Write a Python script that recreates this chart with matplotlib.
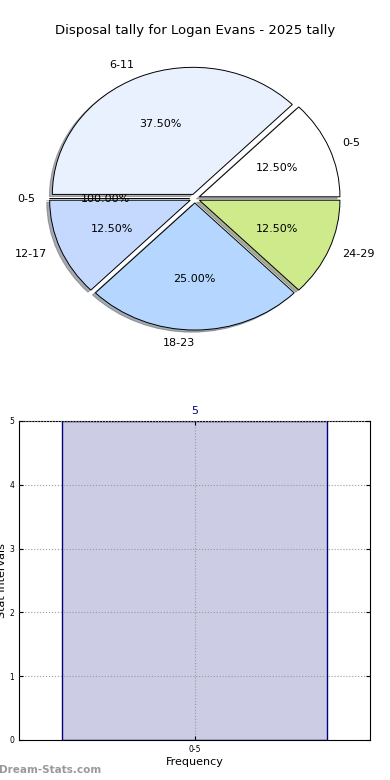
import matplotlib
matplotlib.use('Agg')
import matplotlib.pyplot as plt

# pie data (as shown in the chart, including the odd zero-width "0-5" slice)
pie_labels = ['0-5', '6-11', '0-5', '12-17', '18-23', '24-29']
pie_values = [1, 3, 0, 1, 2, 1]
pie_pct = ['12.50%', '37.50%', '100.00%', '12.50%', '25.00%', '12.50%']
pie_colors = ['#ffffff', '#eaf1fe', '#ffffff', '#c5d9fe', '#b5d6fe', '#ceea8b']

# histogram data
bar_labels = ['0-5']
bar_values = [5]

title = 'Disposal tally for Logan Evans - 2025 tally'

fig = plt.figure(figsize=(3.9, 7.8), dpi=100)

# --- pie ---
ax1 = fig.add_axes([0.067, 0.55, 0.865, 0.391])
pct_iter = iter(pie_pct)
wedges, texts, autotexts = ax1.pie(
    pie_values, labels=pie_labels, colors=pie_colors,
    explode=[0.035] * len(pie_values),
    shadow={'ox': -0.015, 'oy': -0.012, 'shade': 0.6},
    startangle=0,
    autopct=lambda p: next(pct_iter),
    wedgeprops={'edgecolor': 'black', 'linewidth': 0.7},
    textprops={'fontsize': 8})
texts[4].set_ha('right')   # bottom label sits just left of centre in the original
ax1.set_aspect('auto')
ax1.set_xlim(-1.2, 1.2)
ax1.set_ylim(-1.2, 1.2)
fig.text(0.5, 0.961, title, ha='center', va='center', fontsize=9.5)

# --- bar chart ---
ax2 = fig.add_axes([0.049, 0.0513, 0.9, 0.409])
xs = range(len(bar_values))
ax2.bar(xs, bar_values, width=0.8, color='#ccccE4', edgecolor='#000080', linewidth=1)
ax2.set_xlim(-0.53, 0.53)
ax2.set_ylim(0, 5)
ax2.set_xticks(list(xs))
ax2.set_xticklabels(bar_labels)
ax2.set_yticks(range(0, 6))
ax2.tick_params(labelsize=5.5, direction='in', top=True, right=True, length=3)
ax2.grid(True, linestyle=':', color='#999999', linewidth=0.8)
ax2.set_axisbelow(False)
for x, v in zip(xs, bar_values):
    ax2.text(x, v + 0.08, str(v), ha='center', va='bottom', color='#000080', fontsize=8)
ax2.set_ylabel('Stat Intervals', fontsize=8, labelpad=2)
ax2.set_xlabel('Frequency', fontsize=8, labelpad=2)

fig.text(-0.003, 0.013, 'Dream-Stats.com', ha='left', va='center',
         fontsize=7.5, color='#999999', fontweight='bold')

fig.savefig('out.png', dpi=100)
